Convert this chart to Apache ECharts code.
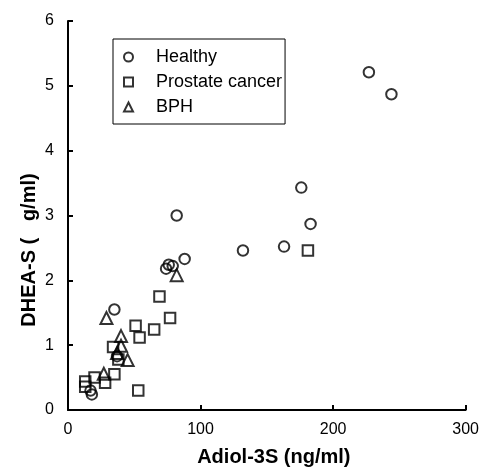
<!DOCTYPE html>
<html>
<head>
<meta charset="utf-8">
<script src="https://cdn.jsdelivr.net/npm/echarts@6/dist/echarts.min.js"></script>
<style>
  html, body { margin: 0; padding: 0; background: #fff; }
</style>
</head>
<body>
<div id="myChart" style="width: 482px; height: 472px;"></div>
<script>
// values: [Adiol-3S, DHEA-S]
var healthy = [
    [227, 5.21], [244, 4.87], [176, 3.43], [183, 2.87], [163, 2.52], [132, 2.46],
    [88, 2.33], [82, 3.0], [74, 2.18], [76, 2.24], [79, 2.22],
    [35, 1.55], [37, 0.83], [17, 0.30], [18, 0.24]
];
var prostateCancer = [
    [181, 2.46], [69, 1.75], [77, 1.42], [65, 1.24], [51, 1.30], [54, 1.12],
    [34, 0.97], [38, 0.78], [35, 0.55], [28, 0.42], [20, 0.50], [13, 0.44],
    [13, 0.36], [53, 0.30]
];
var bph = [
    [82, 2.08], [29, 1.42], [40, 1.14], [40, 0.99], [45, 0.77], [27, 0.56], [37, 0.88]
];
var seriesNames = ['Healthy', 'Prostate cancer', 'BPH'];
var xTicks = [0, 100, 200, 300];
var yTicks = [0, 1, 2, 3, 4, 5, 6];

var font = 'Arial, "Liberation Sans", sans-serif';
var markStyle = {
    color: 'rgba(255,255,255,0)',
    borderColor: '#000',
    borderWidth: 2
};

var myChart = echarts.init(document.getElementById('myChart'));
var option = {
    animation: false,
    backgroundColor: '#fff',
    grid: { left: 68, right: 16, top: 21, bottom: 57 },
    legend: {
        orient: 'vertical',
        left: 113,
        top: 39,
        data: seriesNames,
        itemWidth: 9,
        itemHeight: 9,
        itemGap: 7,
        padding: [9, 3, 8, 10],
        borderColor: '#000',
        borderWidth: 1,
        itemStyle: { borderWidth: 2 },
        textStyle: {
            fontFamily: font,
            fontSize: 18,
            lineHeight: 18,
            color: '#000',
            padding: [0, 0, 0, 18]
        }
    },
    xAxis: {
        type: 'value',
        min: xTicks[0],
        max: xTicks[xTicks.length - 1],
        interval: 100,
        name: 'Adiol-3S (ng/ml)',
        nameLocation: 'middle',
        nameGap: 37,
        nameTextStyle: {
            fontFamily: font, fontSize: 20, fontWeight: 'bold', color: '#000',
            padding: [0, 0, 0, 14]
        },
        splitLine: { show: false },
        axisLine: { lineStyle: { color: '#000', width: 2 } },
        axisTick: { inside: true, length: 5, lineStyle: { color: '#000', width: 2 } },
        axisLabel: { fontFamily: font, fontSize: 16, color: '#000', margin: 12 }
    },
    yAxis: {
        type: 'value',
        min: yTicks[0],
        max: yTicks[yTicks.length - 1],
        interval: 1,
        splitLine: { show: false },
        axisLine: { lineStyle: { color: '#000', width: 2 } },
        axisTick: { inside: true, length: 5, lineStyle: { color: '#000', width: 2 } },
        axisLabel: { fontFamily: font, fontSize: 16, color: '#000', margin: 14 }
    },
    graphic: [{
        type: 'text',
        x: 29,
        y: 250,
        rotation: Math.PI / 2,
        style: {
            text: 'DHEA-S (   g/ml)',
            fontFamily: font,
            fontSize: 20,
            fontWeight: 'bold',
            fill: '#000',
            align: 'center',
            verticalAlign: 'middle'
        }
    }],
    series: [
        { name: seriesNames[0], type: 'scatter', symbol: 'circle', symbolSize: 10.5, data: healthy, itemStyle: markStyle },
        { name: seriesNames[1], type: 'scatter', symbol: 'rect', symbolSize: 10.5, data: prostateCancer, itemStyle: markStyle },
        { name: seriesNames[2], type: 'scatter', symbol: 'triangle', symbolSize: 12, data: bph, itemStyle: markStyle }
    ]
};
myChart.setOption(option);
</script>
</body>
</html>
